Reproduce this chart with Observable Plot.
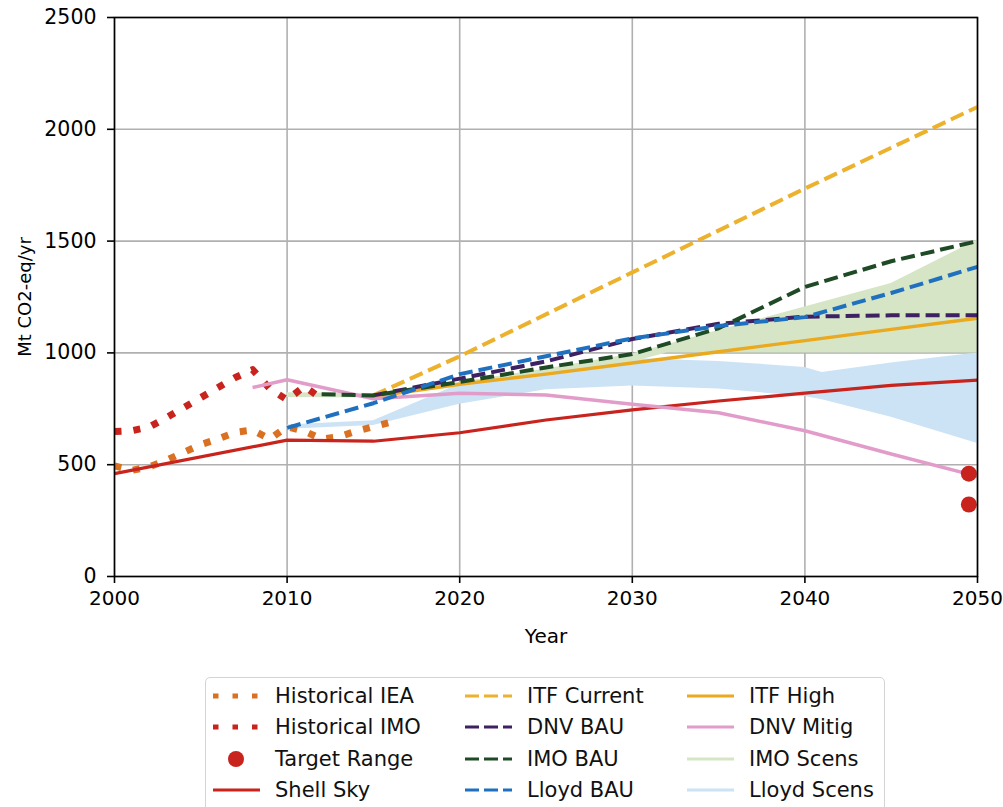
<!DOCTYPE html>
<html><head><meta charset="utf-8">
<script src="https://cdn.jsdelivr.net/npm/d3@7"></script>
<script src="https://cdn.jsdelivr.net/npm/@observablehq/plot@0.6"></script>
<style>
body{margin:0;background:#fff;font-family:"DejaVu Sans",sans-serif;}
#chart{position:relative;width:1003px;height:807px;overflow:hidden;background:#fff;}
#legend{position:absolute;left:205px;top:677px;width:680px;height:150px;border:1.5px solid #d4d4d4;border-radius:5px;box-sizing:border-box;background:#fff;}
.item{position:absolute;display:flex;align-items:center;height:30px;font-size:21px;color:#111;white-space:nowrap;}
.item svg{margin-right:15px;}
</style></head><body><div id="chart"></div>
<script>
// ---------- data (Mt CO2-eq/yr) ----------
const xTicks = [2000, 2010, 2020, 2030, 2040, 2050];
const yTicks = [0, 500, 1000, 1500, 2000, 2500];

const ieaYears  = [2000,2001,2002,2003,2004,2005,2006,2007,2008,2009,2010,2011,2012,2013,2014,2015,2016];
const ieaValues = [495, 475, 490, 520, 555, 590, 615, 645, 655, 615, 670, 650, 615, 625, 650, 670, 690];

const imoHistYears  = [2000,2001,2002,2003,2004,2005,2006,2007,2008,2009,2010,2011,2012];
const imoHistValues = [648, 652, 668, 710, 755, 800, 845, 890, 925, 840, 790, 850, 795];

const targetYears  = [2049.5, 2049.5];
const targetValues = [460, 322];

const shellYears  = [2000,2010,2015,2020,2025,2030,2035,2040,2045,2050];
const shellValues = [460, 610, 605, 643, 700, 745, 785, 820, 855, 878];

const itfCurYears  = [2015,2020,2030,2040,2050];
const itfCurValues = [810, 985, 1360, 1735, 2100];

const itfHighYears  = [2015,2020,2025,2030,2035,2040,2045,2050];
const itfHighValues = [805, 860, 905, 955, 1005, 1055, 1105, 1155];

const dnvBauYears  = [2015,2020,2025,2030,2035,2040,2045,2050];
const dnvBauValues = [810, 885, 962, 1062, 1130, 1162, 1168, 1168];

const dnvMitYears  = [2008,2010,2015,2020,2025,2030,2035,2040,2045,2050];
const dnvMitValues = [845, 880, 795, 820, 812, 770, 732, 652, 548, 448];

const imoBauYears  = [2012,2015,2020,2025,2030,2035,2040,2045,2050];
const imoBauValues = [815, 810, 870, 935, 995, 1110, 1295, 1410, 1500];

const imoScenYears = [2010,2015,2020,2025,2030,2032,2035,2040,2045,2050];
const imoScenLow   = [800, 798, 850, 903, 958, 1000, 1000, 1000, 1000, 1000];
const imoScenHigh  = [822, 818, 868, 928, 995, 1037, 1100, 1205, 1310, 1505];

const lloydBauYears  = [2010,2015,2020,2025,2030,2035,2040,2045,2050];
const lloydBauValues = [665, 775, 905, 985, 1065, 1120, 1160, 1268, 1385];

const lloydScenYears = [2010,2015,2020,2025,2030,2035,2040,2041,2045,2050];
const lloydScenLow   = [658, 675, 770, 835, 852, 838, 805, 790, 712, 595];
const lloydScenHigh  = [678, 697, 860, 912, 975, 962, 935, 912, 955, 1000];

// ---------- styling ----------
const C = {
  iea: "#da7021", imoHist: "#c8231d", target: "#c8231d", shell: "#c8231d",
  itfCur: "#ecb22e", itfHigh: "#eaa91e", dnvBau: "#3e2163", dnvMit: "#e29cc9",
  imoBau: "#1e4a26", imoScen: "#d6e5c6", lloydBau: "#1f71c0", lloydScen: "#cce3f5"
};
const DOT = "7,12", DASH = "14,6";

const rows = (xs, ys) => xs.map((x, i) => ({x, y: ys[i]}));
const band = (xs, lo, hi) => xs.map((x, i) => ({x, lo: lo[i], hi: hi[i]}));

const lineSpecs = [
  {data: rows(ieaYears, ieaValues), stroke: C.iea, w: 7, dash: DOT},
  {data: rows(imoHistYears, imoHistValues), stroke: C.imoHist, w: 7, dash: DOT},
  {data: rows(shellYears, shellValues), stroke: C.shell, w: 3.2, dash: null},
  {data: rows(itfCurYears, itfCurValues), stroke: C.itfCur, w: 4, dash: DASH},
  {data: rows(itfHighYears, itfHighValues), stroke: C.itfHigh, w: 3.4, dash: null},
  {data: rows(dnvMitYears, dnvMitValues), stroke: C.dnvMit, w: 3.5, dash: null},
  {data: rows(dnvBauYears, dnvBauValues), stroke: C.dnvBau, w: 4, dash: DASH},
  {data: rows(imoBauYears, imoBauValues), stroke: C.imoBau, w: 4, dash: DASH},
  {data: rows(lloydBauYears, lloydBauValues), stroke: C.lloydBau, w: 4, dash: DASH}
];

const plot = Plot.plot({
  width: 1003, height: 660,
  marginTop: 17, marginLeft: 114, marginRight: 26, marginBottom: 84,
  style: {fontFamily: "DejaVu Sans, sans-serif", fontSize: "20px", color: "#000", background: "white", overflow: "visible"},
  x: {domain: [2000, 2050]},
  y: {domain: [0, 2500]},
  marks: [
    Plot.gridX(xTicks, {stroke: "#b0b0b0", strokeOpacity: 1, strokeWidth: 1.6}),
    Plot.gridY(yTicks, {stroke: "#b0b0b0", strokeOpacity: 1, strokeWidth: 1.6}),
    Plot.areaY(band(lloydScenYears, lloydScenLow, lloydScenHigh), {x: "x", y1: "lo", y2: "hi", fill: C.lloydScen, fillOpacity: 1}),
    Plot.areaY(band(imoScenYears, imoScenLow, imoScenHigh), {x: "x", y1: "lo", y2: "hi", fill: C.imoScen, fillOpacity: 1}),
    ...lineSpecs.map(s => Plot.line(s.data, {
      x: "x", y: "y", stroke: s.stroke, strokeWidth: s.w,
      strokeDasharray: s.dash, strokeLinecap: "butt", strokeLinejoin: "round", curve: "linear"
    })),
    Plot.dot(rows(targetYears, targetValues), {x: "x", y: "y", r: 8, fill: C.target, stroke: null}),
    Plot.frame({stroke: "#000", strokeWidth: 1.6}),
    Plot.axisX(xTicks, {tickSize: 7, tickPadding: 7, strokeWidth: 1.6, fontSize: 20, tickFormat: d => String(d),
      label: null}),
    Plot.axisX({label: "Year", ticks: [], tickSize: 0, fontSize: 20, labelAnchor: "center", labelArrow: "none", labelOffset: 66}),
    Plot.axisY(yTicks, {tickSize: 7, tickPadding: 11, strokeWidth: 1.6, fontSize: 20.5, tickFormat: d => String(d),
      label: null}),
    Plot.axisY({label: "Mt CO2-eq/yr", ticks: [], tickSize: 0, fontSize: 18, labelAnchor: "center", labelArrow: "none", labelOffset: 96})
  ]
});
const chart = document.getElementById("chart");
chart.appendChild(plot);

// ---------- legend ----------
const legendNames = [
  ["Historical IEA", "Historical IMO", "Target Range", "Shell Sky"],
  ["ITF Current", "DNV BAU", "IMO BAU", "Lloyd BAU"],
  ["ITF High", "DNV Mitig", "IMO Scens", "Lloyd Scens"]
];
const legendKinds = [
  [["dot", C.iea], ["dot", C.imoHist], ["marker", C.target], ["solid", C.shell]],
  [["dash", C.itfCur], ["dash", C.dnvBau], ["dash", C.imoBau], ["dash", C.lloydBau]],
  [["solid", C.itfHigh], ["solid", C.dnvMit], ["solid", C.imoScen], ["solid", C.lloydScen]]
];
const colX = [7, 259, 481];
const rowY = [3, 34, 66, 97];
const legend = d3.select(chart).append("div").attr("id", "legend");
legendNames.forEach((col, ci) => col.forEach((name, ri) => {
  const [kind, color] = legendKinds[ci][ri];
  const it = legend.append("div").attr("class", "item")
    .style("left", colX[ci] + "px").style("top", rowY[ri] + "px");
  const s = it.append("svg").attr("width", 47).attr("height", 20);
  if (kind === "marker") {
    s.append("circle").attr("cx", 23).attr("cy", 10).attr("r", 8).attr("fill", color);
  } else {
    s.append("line").attr("x1", 0).attr("x2", 47).attr("y1", 10).attr("y2", 10)
      .attr("stroke", color)
      .attr("stroke-width", kind === "dot" ? 5 : 3)
      .attr("stroke-dasharray", kind === "dot" ? "5.5,14" : kind === "dash" ? "14,5" : null);
  }
  it.append("span").text(name);
}));
</script></body></html>
